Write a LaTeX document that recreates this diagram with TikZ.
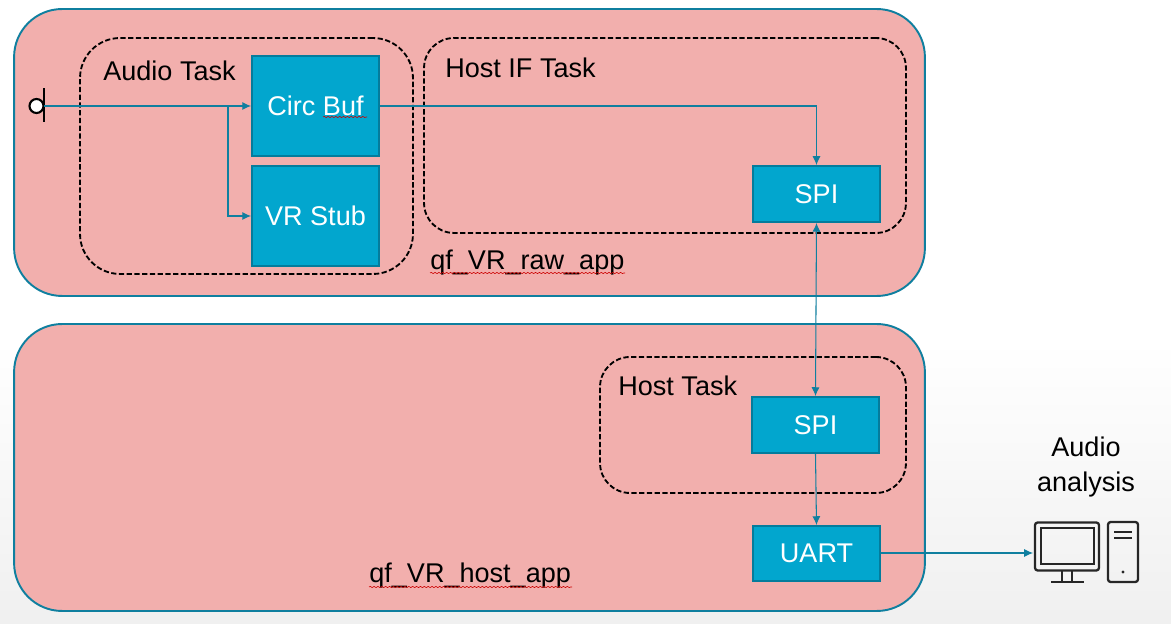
\documentclass[tikz,border=0pt]{standalone}
\usepackage{fontspec}
\setmainfont{Liberation Sans}
\usetikzlibrary{positioning}
\usetikzlibrary{arrows.meta}
\usetikzlibrary{decorations.pathmorphing}
\definecolor{boxpink}{HTML}{F2AFAD}
\definecolor{boxteal}{HTML}{0F7F9F}
\definecolor{blockblue}{HTML}{02A6CE}
\definecolor{blockline}{HTML}{047C9C}
\tikzset{
    Outer/.style = {rectangle, draw=boxteal, fill=boxpink, line width=1.1pt, rounded corners=0.96cm, minimum width=18.22cm, minimum height=5.74cm},
    Task/.style = {rectangle, draw=black, line width=1.05pt, dash pattern=on 3pt off 1.4pt},
    Block/.style = {rectangle, draw=blockline, fill=blockblue, line width=1.1pt, minimum width=2.54cm, text=white, font=\fontsize{15.4}{18.5}\selectfont},
    Label/.style = {inner sep=0pt, anchor=west, font=\fontsize{15.4}{18.5}\selectfont},
    Edge/.style = {draw=boxteal, line width=0.6pt, -{Latex[length=5pt,width=4.6pt]}},
    Squiggle/.style = {draw=red!80!black, line width=0.35pt, decorate, decoration={snake, amplitude=0.35pt, segment length=2.2pt}},
    Pc/.style = {draw=black!85, line width=1.3pt, rounded corners=1.5pt}
}
\begin{document}
\begin{tikzpicture}[x=0.02cm, y=-0.02cm]
\useasboundingbox (0,0) rectangle (1171,624);
\fill[white] (0,0) rectangle (1171,340);
\shade[top color=white, bottom color=black!6] (0,340) rectangle (1171,624);
% the two apps
\node[Outer] at (469.5,152.5) (rawapp) {};
\node[Outer] at (469.5,467.5) (hostapp) {};
\node[Label] at (430,263) (rawlabel) {qf\_VR\_raw\_app};
\node[Label] at (369,576) (hostlabel) {qf\_VR\_host\_app};
% tasks
\node[Task, rounded corners=0.8cm, minimum width=6.66cm, minimum height=4.72cm] at (246.5,156) (audiotask) {};
\node[Task, rounded corners=0.6cm, minimum width=9.64cm, minimum height=3.9cm] at (665,135.5) (hostiftask) {};
\node[Task, rounded corners=0.6cm, minimum width=6.12cm, minimum height=2.72cm] at (753,425) (hosttask) {};
\node[Label] at (103,71) (audiolabel) {Audio Task};
\node[Label] at (445,68) (hostiflabel) {Host IF Task};
\node[Label] at (618,386) (hostlabeltask) {Host Task};
% blocks
\node[Block, minimum height=2cm] at (315.5,106) (circbuf) {Circ Buf};
\node[Block, minimum height=2cm] at (315.5,216) (vrstub) {VR Stub};
\node[Block, minimum height=1.12cm] at (816.5,194) (spiraw) {SPI};
\node[Block, minimum height=1.12cm] at (815.5,425) (spihost) {SPI};
\node[Block, minimum height=1.1cm] at (816.5,553.5) (uart) {UART};
% microphone
\node[circle, draw=black, fill=white, line width=1.2pt, inner sep=0pt, minimum size=0.28cm] at (36.5,106) (mic) {};
\coordinate (bartop) at (44,88.5);
\coordinate (barbot) at (44,122);
\coordinate (micout) at (44,106);
\coordinate (tap) at (228,106);
\draw[black, line width=1.6pt] (bartop) -- (barbot);
% computer
\node[Label, anchor=center, align=center] at (1086,467) (pclabel) {Audio\\[1pt]analysis};
\node[rectangle, Pc, minimum width=1.28cm, minimum height=0.96cm] at (1067,546.5) (monitor) {};
\node[rectangle, Pc, rounded corners=0pt, minimum width=1.06cm, minimum height=0.72cm] at (1067.5,546) (screen) {};
\node[rectangle, Pc, minimum width=0.6cm, minimum height=1.2cm] at (1123,552) (tower) {};
\coordinate (pcin) at (1033,553);
\draw[Pc, rounded corners=0pt] (1062,570.5) -- (1062,582);
\draw[Pc, rounded corners=0pt] (1072,570.5) -- (1072,582);
\draw[Pc, rounded corners=0pt] (1051,582) -- (1084,582);
\draw[Pc, rounded corners=0pt] (1114,532) -- (1132,532);
\draw[Pc, rounded corners=0pt] (1114,538) -- (1132,538);
\fill[black!85] (1123,572) circle (0.9pt);
% connectors
\path (micout) edge [Edge] (circbuf.west);
\draw[Edge] (tap) |- (vrstub.west);
\draw[Edge] (circbuf.east) -| (spiraw.north);
\draw[Edge, {Latex[length=5pt,width=4.6pt]}-{Latex[length=5pt,width=4.6pt]}] (spiraw.south) -- (spihost.north);
\draw[Edge] (spihost.south) -- (uart.north);
\draw[Edge] (uart.east |- pcin) -- (pcin);
% spell check marks
\draw[Squiggle] (323,117) -- (367,117);
\draw[Squiggle] (430,273) -- (625,273);
\draw[Squiggle] (369,587) -- (572,587);
\end{tikzpicture}
\end{document}
